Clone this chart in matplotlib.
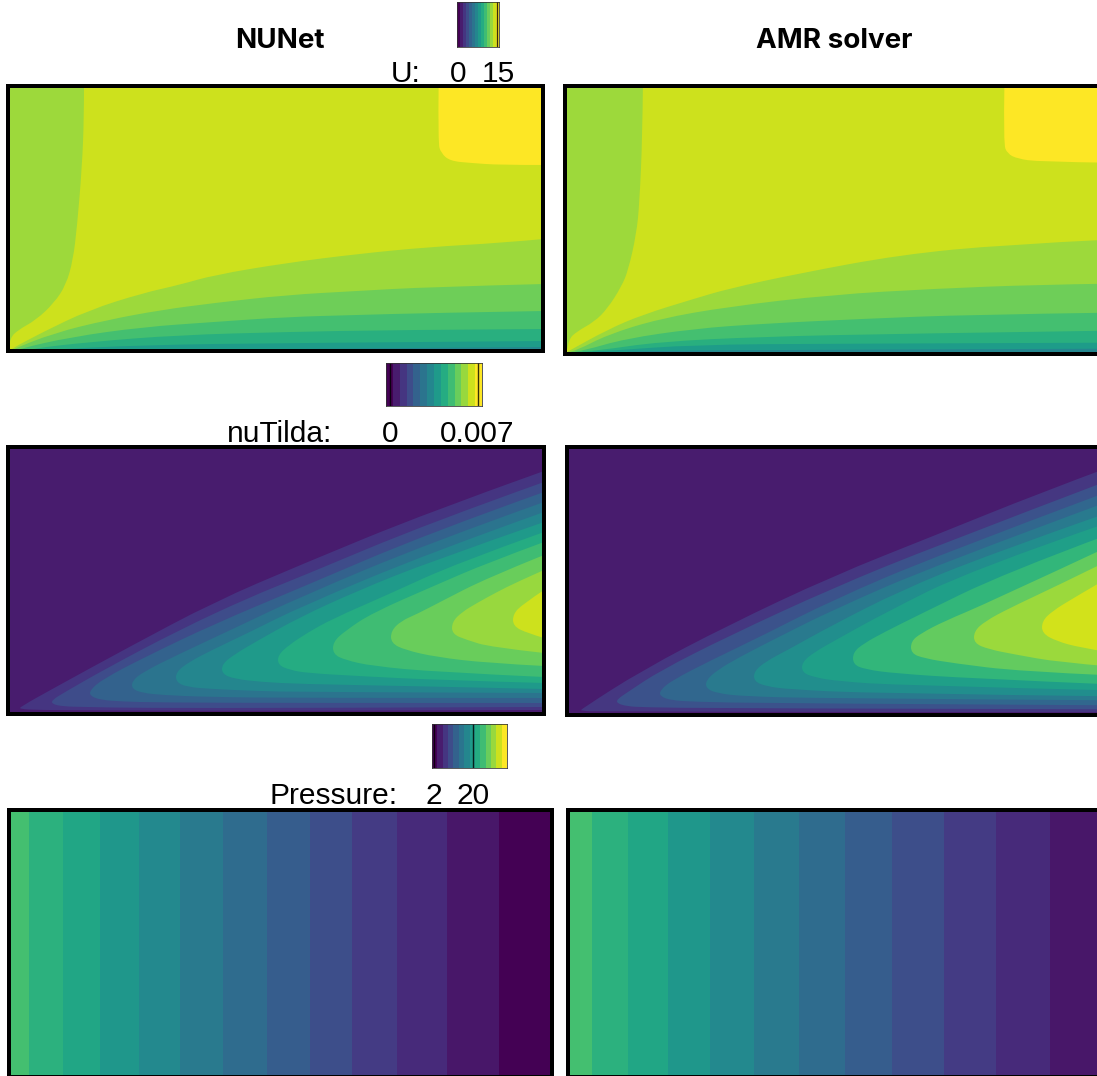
import matplotlib
matplotlib.use('Agg')
from matplotlib import pyplot as plt
from matplotlib.patches import PathPatch
from matplotlib.path import Path

W, H = 1097, 1076
plt.rcParams['font.family'] = ['Liberation Sans', 'DejaVu Sans']

# U field, levels are fractions of the colour range
u_background = 0.925
u_corner_level = 1.0
u_inlet_level = 0.855
u_band_levels = [0.855, 0.78, 0.70, 0.63, 0.55, 0.46]

nunet_u_inlet = [(77, 266), (77, 235), (75, 185), (70, 125), (66, 92), (59, 67), (47, 49),
                 (29, 32), (11, 22), (3, 14), (2, 5)]
nunet_u_corner = [(431.6, 266), (431, 209), (434, 199), (443, 191), (464, 189), (493, 187), (537, 187)]
nunet_u_bands = [
    [(0, 0), (4, 3), (36, 20), (82, 42), (136, 59), (172, 67), (207, 77), (279, 89), (350, 98), (422, 105), (493, 109), (537, 113)],
    [(1, 0), (4, 2), (47, 19), (100, 32), (154, 42), (207, 49), (279, 57), (350, 61), (422, 65), (537, 68)],
    [(4, 0), (11, 3), (64, 15), (136, 25), (207, 30), (279, 35), (350, 37), (422, 39), (537, 41)],
    [(10, 0), (22, 3), (82, 10), (172, 17), (279, 20), (386, 22), (537, 23)],
    [(18, 0), (36, 2), (136, 7), (279, 9), (537, 11)],
    [(60, 0), (136, 2), (279, 3), (537, 5)],
]

amr_u_inlet = [(75.5, 266), (75, 215), (72, 148), (69, 118), (61, 82), (54, 65), (40, 43),
               (27, 30), (9, 20), (1, 12), (0, 3)]
amr_u_corner = [(437, 266), (436, 208), (440, 198), (450, 193), (471, 190), (540, 189)]
amr_u_bands = [
    [(0, 0), (2, 1), (40, 22), (75, 37), (127, 53), (161, 63), (230, 78), (333, 97), (437, 107), (540, 112)],
    [(3, 0), (9, 1), (40, 17), (92, 33), (161, 45), (264, 57), (368, 63), (471, 67), (540, 68)],
    [(8, 0), (16, 1), (58, 13), (127, 23), (195, 28), (299, 33), (402, 37), (540, 39)],
    [(15, 0), (30, 1), (92, 10), (195, 15), (333, 18), (540, 21)],
    [(25, 0), (44, 1), (127, 7), (264, 8), (540, 9)],
    [(60, 0), (92, 1), (264, 2), (540, 3)],
]

# nuTilda field, each band is one closed tongue: upper edge and lower edge, both read from the nose
nu_background = 0.077
nunet_nu_levels = [0.154, 0.23, 0.31, 0.385, 0.46, 0.54, 0.615, 0.69, 0.77, 0.846, 0.923]
nunet_nu_upper = [
    [(13, 6), (47, 25), (122, 66), (207, 111), (293, 148), (422, 201), (537, 242)],
    [(45, 13), (58, 21), (100, 45), (172, 83), (243, 116), (293, 136), (422, 190), (537, 231)],
    [(83, 23), (96, 34), (136, 55), (207, 89), (293, 125), (422, 180), (537, 221)],
    [(125, 32), (136, 41), (170, 58), (230, 86), (293, 116), (422, 170), (537, 211)],
    [(169, 41), (182, 51), (205, 63), (245, 82), (293, 106), (422, 160), (537, 201)],
    [(215, 49), (228, 59), (250, 72), (293, 96), (350, 122), (422, 151), (537, 191)],
    [(271, 58), (282, 68), (300, 80), (325, 94), (380, 118), (450, 150), (537, 181)],
    [(326, 71), (338, 82), (365, 100), (429, 128), (480, 150), (537, 171)],
    [(384, 82), (394, 92), (410, 99), (435, 112), (480, 135), (537, 158)],
    [(445, 91), (455, 101), (470, 110), (490, 121), (510, 131), (537, 143)],
    [(506, 99), (516, 109), (537, 123)],
]
nunet_nu_lower = [
    [(13, 4), (30, 3), (100, 2.5), (293, 2), (537, 3)],
    [(45, 9), (56, 6.5), (80, 6), (130, 5), (293, 5), (537, 6)],
    [(83, 17), (94, 13), (115, 11.5), (150, 10.5), (293, 10), (537, 10)],
    [(125, 24), (136, 20), (155, 18), (200, 16), (293, 15), (537, 15)],
    [(169, 31), (180, 26), (205, 24), (250, 22), (293, 21), (537, 20)],
    [(215, 39), (228, 34), (255, 31), (293, 29), (400, 27), (537, 24)],
    [(271, 48), (283, 43), (300, 40), (350, 37), (430, 33), (537, 30)],
    [(326, 59), (338, 53), (365, 47), (429, 41), (537, 36)],
    [(384, 70), (398, 63), (429, 56), (480, 50), (537, 47)],
    [(445, 79), (460, 73), (483, 66), (537, 60)],
    [(506, 87), (520, 80), (537, 75)],
]

amr_nu_levels = [0.16, 0.25, 0.33, 0.41, 0.49, 0.56, 0.66, 0.76, 0.85, 0.93]
amr_nu_upper = [
    [(12, 4), (73, 43), (159, 88), (263, 137), (366, 178), (470, 220), (540, 246)],
    [(48, 14), (60, 22), (90, 42), (159, 77), (263, 125), (366, 167), (540, 233)],
    [(91, 23), (103, 33), (142, 53), (194, 78), (263, 113), (366, 157), (540, 222)],
    [(137, 33), (148, 43), (170, 56), (211, 77), (263, 103), (366, 148), (540, 212)],
    [(185, 42), (197, 52), (218, 63), (263, 88), (332, 123), (418, 158), (540, 201)],
    [(233, 51), (245, 61), (268, 74), (315, 100), (401, 143), (540, 191)],
    [(284, 61), (295, 70), (315, 81), (349, 98), (435, 140), (540, 179)],
    [(342, 72), (352, 80), (375, 92), (418, 110), (540, 167)],
    [(405, 82), (416, 92), (440, 105), (487, 127), (540, 153)],
    [(473, 92), (483, 102), (504, 115), (540, 136)],
]
amr_nu_lower = [
    [(12, 2.5), (30, 1.5), (540, 1)],
    [(48, 10), (58, 7), (75, 6), (150, 5), (540, 4)],
    [(91, 17), (102, 13), (125, 11.5), (200, 10), (540, 8)],
    [(137, 25), (148, 20), (175, 17), (250, 15), (540, 13)],
    [(185, 32), (197, 27), (220, 24), (300, 20), (540, 17)],
    [(233, 41), (245, 36), (270, 32), (330, 28), (540, 23)],
    [(284, 49), (296, 44), (325, 40), (400, 35), (540, 29)],
    [(342, 60), (355, 55), (385, 50), (450, 42), (540, 38)],
    [(405, 70), (420, 64), (445, 59), (490, 51), (540, 47)],
    [(473, 80), (488, 72), (510, 66), (540, 61)],
]

# Pressure field, stripes along x
nunet_p_edges = [0, 29, 63, 100, 139, 180, 223, 267, 310, 352, 397, 447, 499, 560]
nunet_p_levels = [0.70, 0.64, 0.59, 0.53, 0.47, 0.41, 0.35, 0.29, 0.235, 0.175, 0.12, 0.06, 0.0]
amr_p_edges = [560, 592, 628, 668, 710, 754, 799, 845, 892, 944, 996, 1050, 1110]
amr_p_levels = [0.70, 0.64, 0.59, 0.53, 0.47, 0.41, 0.35, 0.29, 0.235, 0.175, 0.12, 0.06]

colorbar_steps = [0.0, 0.077, 0.154, 0.23, 0.31, 0.385, 0.46, 0.54, 0.615, 0.69, 0.77, 0.846, 0.923, 1.0]


fig = plt.figure(figsize=(W / 100, H / 100), dpi=100)
cmap = plt.get_cmap('viridis')


def make_axes(left, top, right, bottom, x0=None, y0=None, lw=4):
    # box is given in picture pixels, x0/y0 is the panel origin
    ax = fig.add_axes([left / W, 1 - bottom / H, (right - left) / W, (bottom - top) / H])
    ax.set_xticks([])
    ax.set_yticks([])
    for s in ax.spines.values():
        s.set_linewidth(lw * 0.72)
        s.set_zorder(10)
    if x0 is not None:
        ax.set_xlim(left - x0, right - x0)
        ax.set_ylim(y0 - bottom, y0 - top)
    return ax


def fill_smooth(ax, points, level, closing=()):
    # quadratic segments through the read points, closing points stay straight
    verts = [points[0]]
    codes = [Path.MOVETO]
    for i in range(1, len(points) - 1):
        a, b = points[i], points[i + 1]
        end = b if i == len(points) - 2 else ((a[0] + b[0]) / 2, (a[1] + b[1]) / 2)
        verts += [a, end]
        codes += [Path.CURVE3, Path.CURVE3]
    for p in closing:
        verts.append(p)
        codes.append(Path.LINETO)
    verts.append(points[0])
    codes.append(Path.CLOSEPOLY)
    ax.add_patch(PathPatch(Path(verts, codes), facecolor=cmap(level), edgecolor='none', linewidth=0))


def draw_u(ax, inlet, corner, bands):
    ax.set_facecolor(cmap(u_background))
    fill_smooth(ax, inlet, u_inlet_level, [(-10, inlet[-1][1]), (-10, 300), (inlet[0][0], 300)])
    fill_smooth(ax, corner, u_corner_level, [(1200, corner[-1][1]), (1200, 300), (corner[0][0], 300)])
    for band, level in zip(bands, u_band_levels):
        fill_smooth(ax, band, level, [(band[-1][0], -10), (band[0][0], -10)])


def draw_nu(ax, upper, lower, levels):
    ax.set_facecolor(cmap(nu_background))
    for up, low, level in zip(upper, lower, levels):
        fill_smooth(ax, low[::-1] + up, level)


def draw_p(ax, edges, levels):
    ax.pcolormesh(edges, [-10, 300], [levels], cmap='viridis', vmin=0, vmax=1)


def draw_colorbar(left, top, right, bottom, vmin, vmax, ticks, labels, line_at, name, name_x, base):
    ax = make_axes(left, top, right, bottom, lw=0.8)
    ax.pcolormesh([vmin + (vmax - vmin) * i / 14 for i in range(15)], [0, 1], [colorbar_steps],
                  cmap='viridis', vmin=0, vmax=1)
    ax.set_xlim(vmin, vmax)
    ax.set_ylim(0, 1)
    for s in ax.spines.values():
        s.set_color('#333333')
    for v in line_at:
        ax.axvline(v, color='black', lw=1.0, alpha=0.8)
    for v, lab in zip(ticks, labels):
        ax.text(v, 1 - (base - top) / (bottom - top), lab, fontsize=21.5, ha='center', va='baseline',
                clip_on=False)
    fig.text(name_x / W, 1 - base / H, name, fontsize=21.5, ha='left', va='baseline')


ax = make_axes(8, 86, 543, 351, 7, 352)
draw_u(ax, nunet_u_inlet, nunet_u_corner, nunet_u_bands)
ax = make_axes(565, 85.5, 1103, 353.5, 567.4, 351.7)
draw_u(ax, amr_u_inlet, amr_u_corner, amr_u_bands)

ax = make_axes(8, 446.5, 543.5, 713.5, 7, 713)
draw_nu(ax, nunet_nu_upper, nunet_nu_lower, nunet_nu_levels)
ax = make_axes(567, 447, 1105, 715, 569, 713.3)
draw_nu(ax, amr_nu_upper, amr_nu_lower, amr_nu_levels)

ax = make_axes(9, 810, 552, 1077, 0, 1077)
draw_p(ax, nunet_p_edges, nunet_p_levels)
ax = make_axes(567.5, 809.5, 1105, 1077, 0, 1077)
draw_p(ax, amr_p_edges, amr_p_levels)

draw_colorbar(457, 2, 499, 47, -0.4, 15.4, [0, 15], ['0', '15'], [14.7], 'U:', 391, 82)
draw_colorbar(386, 363, 482, 406, -0.0003, 0.00735, [0, 0.007], ['0', '0.007'], [0, 0.007],
              'nuTilda:', 227, 442)
draw_colorbar(432, 724, 507, 768, 1.1, 35.6, [2, 20], ['2', '20'], [2, 20], 'Pressure:', 270, 804)

fig.text(280 / W, 1 - 48 / H, 'NUNet', fontsize=20, fontweight='bold', family='Inter', ha='center', va='baseline')
fig.text(834 / W, 1 - 48 / H, 'AMR solver', fontsize=20, fontweight='bold', family='Inter', ha='center', va='baseline')

fig.savefig('out.png', dpi=100)
